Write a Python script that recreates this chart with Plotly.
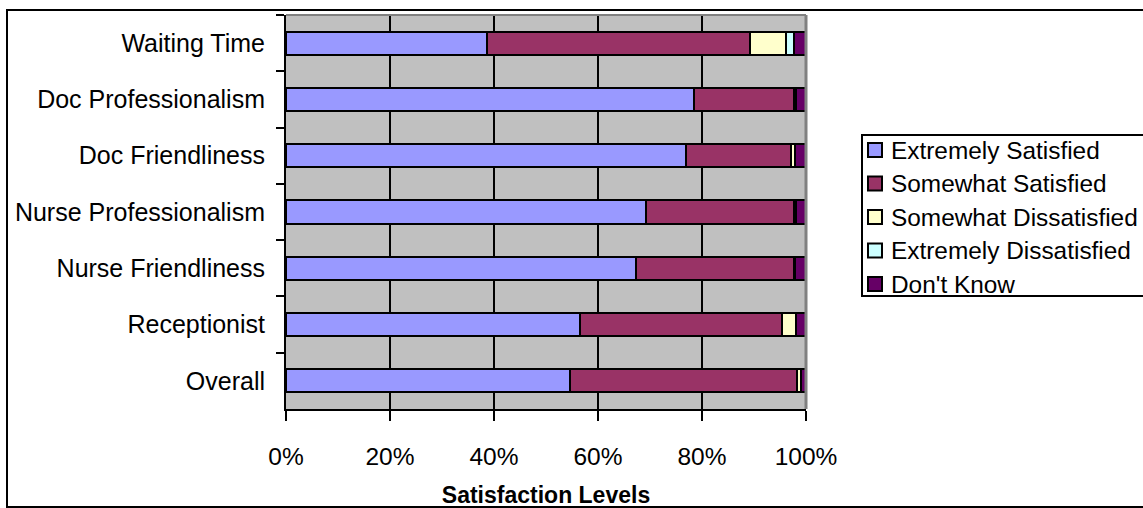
import plotly.graph_objects as go

# Survey items, listed top to bottom
categories = ["Waiting Time", "Doc Professionalism", "Doc Friendliness",
              "Nurse Professionalism", "Nurse Friendliness", "Receptionist", "Overall"]

# Share of responses (%) per satisfaction level
extremely_satisfied = [38.7, 78.4, 76.9, 69.2, 67.3, 56.5, 54.6]
somewhat_satisfied = [50.5, 19.3, 20.3, 28.5, 30.3, 38.8, 43.7]
somewhat_dissatisfied = [7.0, 0.3, 0.7, 0.3, 0.3, 2.7, 0.8]
extremely_dissatisfied = [1.5, 0.0, 0.0, 0.0, 0.0, 0.0, 0.0]
dont_know = [2.3, 2.0, 2.1, 2.0, 2.1, 2.0, 0.9]

x_ticks = [0, 20, 40, 60, 80, 100]

series = [
    ("Extremely Satisfied", extremely_satisfied, "#9999FF"),
    ("Somewhat Satisfied", somewhat_satisfied, "#993366"),
    ("Somewhat Dissatisfied", somewhat_dissatisfied, "#FFFFCC"),
    ("Extremely Dissatisfied", extremely_dissatisfied, "#CCFFFF"),
    ("Don't Know", dont_know, "#660066"),
]

FONT = "Liberation Sans, Arial, sans-serif"

fig = go.Figure()
for name, vals, color in series:
    fig.add_trace(go.Bar(
        y=categories, x=vals, name=name, orientation="h",
        marker=dict(color=color, line=dict(color="black", width=2)),
        showlegend=False,
    ))

W, H = 1143, 508
L, R, T, B = 286, 806, 15, 409


def px_x(px):
    """Pixel column -> paper x."""
    return (px - L) / (R - L)


def px_y(py):
    """Pixel row -> paper y."""
    return (B - py) / (B - T)


fig.update_layout(
    width=W, height=H,
    margin=dict(l=L, r=W - R, t=T, b=H - B, pad=0, autoexpand=False),
    barmode="stack", bargap=0.59,
    plot_bgcolor="#C0C0C0", paper_bgcolor="white",
    font=dict(family=FONT, size=25, color="black"),
    showlegend=False,
)

fig.update_xaxes(
    range=[0, 100], tickvals=x_ticks, ticktext=[f"{v}%" for v in x_ticks],
    tickfont=dict(size=24.5),
    showgrid=True, gridcolor="black", gridwidth=2,
    showline=True, linecolor="black", linewidth=2,
    ticks="outside", ticklen=10, tickwidth=2, tickcolor="black",
    ticklabelstandoff=15,
    zeroline=False,
    title=dict(text="<b>Satisfaction Levels</b>", font=dict(size=23), standoff=24),
)
fig.update_yaxes(
    categoryorder="array", categoryarray=categories, autorange="reversed",
    showgrid=False, showline=True, linecolor="black", linewidth=2,
    ticks="outside", ticklen=8, tickwidth=2, tickcolor="black",
    tickson="boundaries", ticklabelstandoff=14,
    zeroline=False,
)

# Grey frame on the top and right edges of the plotting area
fig.add_shape(type="line", xref="paper", yref="paper", x0=0, x1=1, y0=1, y1=1,
              line=dict(color="#808080", width=2), layer="above")
fig.add_shape(type="line", xref="paper", yref="paper", x0=1, x1=1, y0=0, y1=1,
              line=dict(color="#808080", width=3), layer="above")

# Outer chart border
fig.add_shape(type="rect", xref="paper", yref="paper",
              x0=px_x(7), x1=px_x(1150), y0=px_y(507), y1=px_y(10),
              line=dict(color="black", width=2), fillcolor="rgba(0,0,0,0)", layer="below")

# Legend box with swatches
LEG_LEFT, LEG_TOP, LEG_BOTTOM = 862, 135, 296
ROW0, ROW_STEP = 150, 33.5
fig.add_shape(type="rect", xref="paper", yref="paper",
              x0=px_x(LEG_LEFT), x1=px_x(1150), y0=px_y(LEG_BOTTOM), y1=px_y(LEG_TOP),
              line=dict(color="black", width=2), fillcolor="white", layer="above")
for i, (name, _, color) in enumerate(series):
    cy = ROW0 + i * ROW_STEP
    fig.add_shape(type="rect", xref="paper", yref="paper",
                  x0=px_x(868), x1=px_x(882), y0=px_y(cy + 7), y1=px_y(cy - 7),
                  line=dict(color="black", width=2), fillcolor=color, layer="above")
    fig.add_annotation(xref="paper", yref="paper", x=px_x(889), y=px_y(cy),
                       text=name, showarrow=False, xanchor="left", yanchor="middle",
                       font=dict(size=24.4, color="black"))

fig.write_html("out.html")
